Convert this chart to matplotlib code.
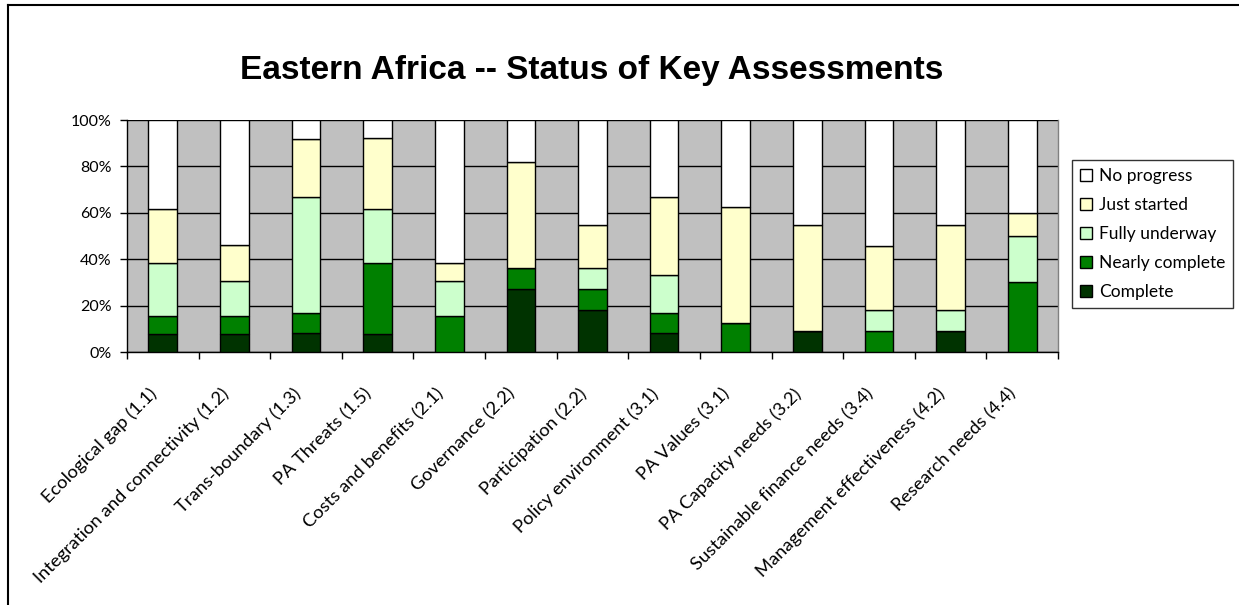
import matplotlib
matplotlib.use('Agg')
import matplotlib.pyplot as plt
import numpy as np
from matplotlib.lines import Line2D
from matplotlib.ticker import FixedLocator
import matplotlib.transforms as mtransforms

categories = ["Ecological gap (1.1)", "Integration and connectivity (1.2)", "Trans-boundary (1.3)",
              "PA Threats (1.5)", "Costs and benefits (2.1)", "Governance (2.2)", "Participation (2.2)",
              "Policy environment (3.1)", "PA Values (3.1)", "PA Capacity needs (3.2)",
              "Sustainable finance needs (3.4)", "Management effectiveness (4.2)", "Research needs (4.4)"]

complete = [7.7, 7.7, 8.3, 7.7, 0, 27.3, 18.2, 8.3, 0, 9.1, 0, 9.1, 0]
nearly_complete = [7.7, 7.7, 8.3, 30.8, 15.4, 9.1, 9.1, 8.3, 12.5, 0, 9.1, 0, 30.0]
fully_underway = [23.1, 15.4, 50.0, 23.1, 15.4, 0, 9.1, 16.7, 0, 0, 9.1, 9.1, 20.0]
just_started = [23.1, 15.4, 25.0, 30.8, 7.7, 45.5, 18.2, 33.3, 50.0, 45.5, 27.3, 36.4, 10.0]
no_progress = [38.5, 53.8, 8.3, 7.7, 61.5, 18.2, 45.5, 33.3, 37.5, 45.5, 54.5, 45.5, 40.0]

series_names = ["Complete", "Nearly complete", "Fully underway", "Just started", "No progress"]
series_colors = ["#003300", "#008000", "#CCFFCC", "#FFFFCC", "#FFFFFF"]

W, H = 1239, 605
fig = plt.figure(figsize=(W / 100, H / 100), dpi=100)
fig.patch.set_facecolor('white')

ax = fig.add_axes([127 / W, 1 - 352 / H, (1058 - 127) / W, 232 / H])
ax.set_facecolor('#C0C0C0')

data = np.array([complete, nearly_complete, fully_underway, just_started, no_progress], dtype=float)
totals = data.sum(axis=0)
pct = data / totals * 100

x = np.arange(len(categories))
bottom = np.zeros(len(categories))
handles = []
for name, vals, col in zip(series_names, pct, series_colors):
    b = ax.bar(x, vals, width=0.4, bottom=bottom, color=col, edgecolor='black',
               linewidth=1.0, label=name, zorder=3)
    bottom += vals
    handles.append(b)

ax.set_xlim(-0.5, len(categories) - 0.5)
ax.set_ylim(0, 100)
ax.set_yticks([0, 20, 40, 60, 80, 100])
ax.set_yticklabels(["0%", "20%", "40%", "60%", "80%", "100%"])
ax.yaxis.grid(True, color='black', linewidth=1.0, zorder=0)
ax.set_axisbelow(True)

ax.spines['top'].set_visible(False)
ax.spines['right'].set_color('#808080')
ax.spines['left'].set_color('black')
ax.spines['bottom'].set_color('black')
for s in ax.spines.values():
    s.set_linewidth(1.0)

tickfont = 'Lato'
ax.tick_params(axis='y', direction='out', length=5, width=1, pad=6, labelsize=11.5)
for lab in ax.get_yticklabels():
    lab.set_fontfamily(tickfont)

ax.set_xticks(x)
ax.xaxis.set_minor_locator(FixedLocator(np.arange(-0.5, len(categories), 1.0)))
ax.tick_params(axis='x', which='major', length=0, pad=24)
ax.tick_params(axis='x', which='minor', length=5, width=1, direction='out')
ax.set_xticklabels(categories, rotation=45, ha='right', rotation_mode='anchor',
                   fontsize=13.2, fontfamily=tickfont)
offset = mtransforms.ScaledTranslation(-14 / 100, 0, fig.dpi_scale_trans)
for lab in ax.get_xticklabels():
    lab.set_transform(lab.get_transform() + offset)

fig.text(592 / W, 1 - 71 / H, "Eastern Africa -- Status of Key Assessments",
         ha='center', va='center', fontsize=24, fontweight='bold', fontfamily='Liberation Sans')

leg = fig.legend(handles[::-1], series_names[::-1], loc='upper left',
                 bbox_to_anchor=(1072 / W, 1 - 160 / H), bbox_transform=fig.transFigure,
                 borderaxespad=0, frameon=True, fancybox=False, shadow=False,
                 handlelength=0.7, handleheight=0.7, handletextpad=0.4,
                 labelspacing=0.75, borderpad=0.45,
                 prop={'family': tickfont, 'size': 12.5})
leg.get_frame().set_edgecolor('black')
leg.get_frame().set_linewidth(1.0)

# outer chart border (left and top)
fig.add_artist(Line2D([8 / W, 8 / W], [0, 1 - 5 / H], transform=fig.transFigure,
                      color='black', linewidth=1.5))
fig.add_artist(Line2D([8 / W, 1], [1 - 5 / H, 1 - 5 / H], transform=fig.transFigure,
                      color='black', linewidth=1.5))

fig.savefig('out.png', dpi=100)
